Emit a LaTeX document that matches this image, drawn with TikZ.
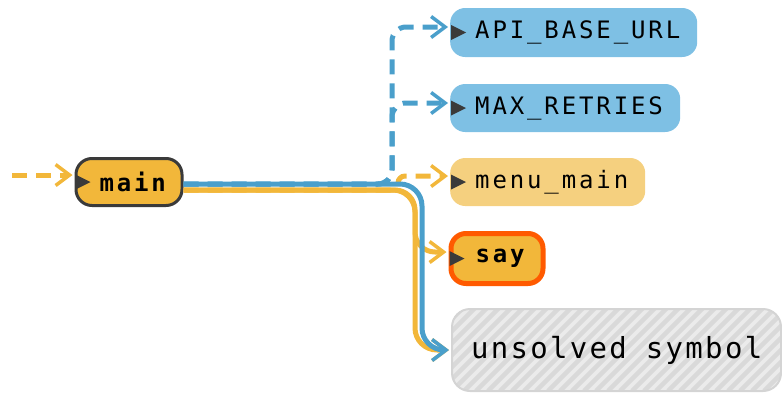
\documentclass[tikz,border=0pt]{standalone}
\usepackage{fontspec}
\setmonofont[LetterSpace=12]{DejaVu Sans Mono}
\newfontfamily\bigmono[LetterSpace=8]{DejaVu Sans Mono}
\usetikzlibrary{arrows.meta,calc}
\definecolor{cblue}{HTML}{4A9FCB}
\definecolor{cbluebox}{HTML}{7EC0E4}
\definecolor{cyel}{HTML}{F2B73A}
\definecolor{cyellight}{HTML}{F5D07F}
\definecolor{cdark}{HTML}{3A3A3A}
\definecolor{corange}{HTML}{FF5A00}
\definecolor{cgray}{HTML}{EBEBEB}
\definecolor{chatch}{HTML}{D9D9D9}
\definecolor{cgrayb}{HTML}{D4D4D4}
\newcommand\marktri[1]{\fill[cdark] ($(#1.west)+(1,-7.5)$) -- ($(#1.west)+(16,0)$) -- ($(#1.west)+(1,7.5)$) -- cycle;}
\tikzset{
  box/.style={rectangle, rounded corners=15pt, anchor=west, inner ysep=0pt, align=left, text=black,
    font=\ttfamily\fontsize{24}{28}\selectfont},
  conn/.style={line width=5pt, -{Straight Barb[length=14pt,width=21pt,line width=3.5pt]}},
  dsh/.style={dash pattern=on 15pt off 9pt},
  bl/.style={conn, draw=cblue},
  yl/.style={conn, draw=cyel},
}
\begin{document}
\begin{tikzpicture}[x=1pt,y=-1pt]
\useasboundingbox (0,0) rectangle (782,394);
% nodes
\node[box, fill=cyel, draw=cdark, line width=3pt, font=\ttfamily\bfseries\fontsize{24}{28}\selectfont,
  minimum height=47pt, inner xsep=23.5pt, text width=59pt, rounded corners=16pt] (main) at (74.5,182) {main};
\node[box, fill=cbluebox, minimum height=49pt, inner xsep=25pt, text width=197pt] (api) at (450,32.5) {API\_BASE\_URL};
\node[box, fill=cbluebox, minimum height=48pt, inner xsep=25pt, text width=180pt] (max) at (450,108) {MAX\_RETRIES};
\node[box, fill=cyellight, minimum height=48pt, inner xsep=25pt, text width=145pt] (menu) at (450,182) {menu\_main};
\node[box, fill=cyel, draw=corange, line width=5pt, font=\ttfamily\bfseries\fontsize{24}{28}\selectfont,
  minimum height=50pt, inner xsep=24.5pt, text width=43pt] (say) at (448.5,258.5) {say};
\node[box, fill=cgray, draw=cgrayb, line width=2pt, rounded corners=18pt, font=\bigmono\fontsize{29}{34}\selectfont,
  minimum height=82pt, inner xsep=19pt, text width=291pt,
  path picture={\foreach \i in {-108,-96,...,444}{\draw[chatch, line width=4.5pt] ([xshift=\i pt]path picture bounding box.south west) -- ++(95,-95);}}]
  (uns) at (451,350) {\mbox{unsolved\hspace{19pt}symbol}};
\marktri{main}
\marktri{api}
\marktri{max}
\marktri{menu}
\marktri{say}
% connectors
\coordinate (src) at (12,175);
\draw[yl, dsh] (src) -- ($(main.west)+(-2,-7)$);
\draw[bl, dsh, rounded corners=14pt] ($(main.east)+(0,2)$) -- (392,184) -- (392,27) -- ($(api.west)+(-2,-5.5)$);
\draw[bl, dsh, rounded corners=14pt] ($(main.east)+(0,2)$) -- (392,184) -- (392,103) -- ($(max.west)+(-2,-5)$);
\draw[yl, dsh, rounded corners=7pt] ($(main.east)+(0,8)$) -- (398,190) -- (398,176) -- ($(menu.west)+(-2,-6)$);
\draw[yl, rounded corners=20pt] ($(main.east)+(0,8)$) -- (415,190) -- (415,252) -- ($(say.west)+(-2,-6.5)$);
\draw[yl, rounded corners=22pt] ($(main.east)+(0,8)$) -- (415,190) -- (415,350) -- ($(uns.west)+(-2,0)$);
\draw[bl, rounded corners=22pt] ($(main.east)+(0,2)$) -- (422,184) -- (422,350) -- ($(uns.west)+(-2,0)$);
\end{tikzpicture}
\end{document}
